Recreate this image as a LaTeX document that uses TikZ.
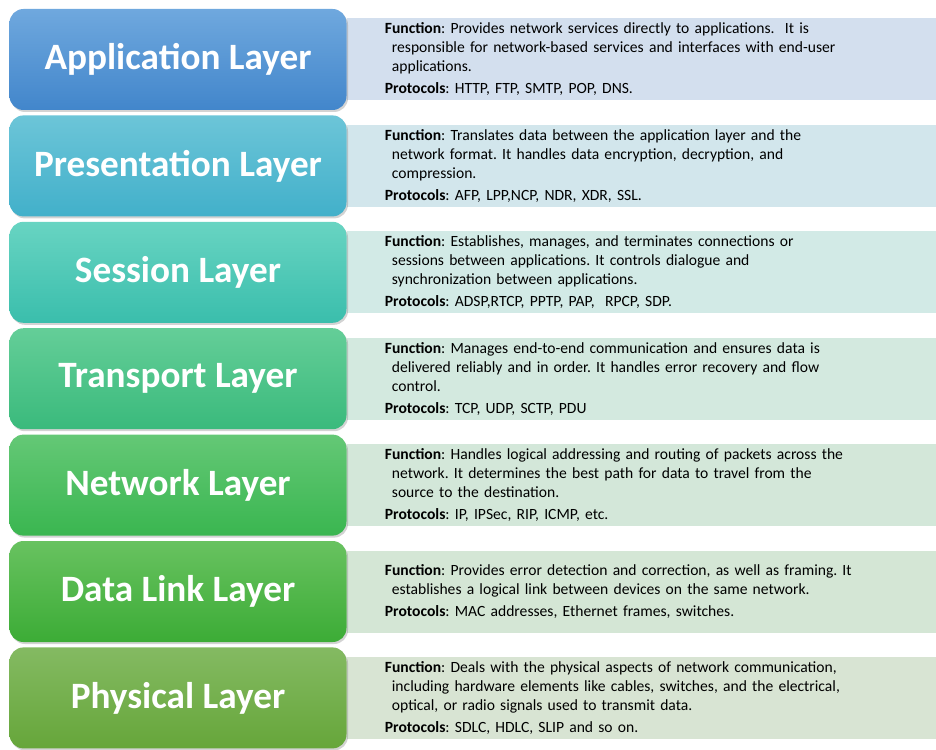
\documentclass[tikz,border=0pt]{standalone}
\usepackage{fontspec}
\setmainfont{Carlito}
\usetikzlibrary{positioning}
\usetikzlibrary{shadows}
\usetikzlibrary{backgrounds}

% layer colours (top, bottom, panel)
\definecolor{apptop}{RGB}{111,168,222}
\definecolor{appbot}{RGB}{66,134,203}
\definecolor{appbg}{RGB}{211,223,238}
\definecolor{prestop}{RGB}{108,197,216}
\definecolor{presbot}{RGB}{66,176,202}
\definecolor{presbg}{RGB}{210,230,236}
\definecolor{sesstop}{RGB}{104,212,194}
\definecolor{sessbot}{RGB}{58,190,172}
\definecolor{sessbg}{RGB}{210,234,230}
\definecolor{transtop}{RGB}{100,206,152}
\definecolor{transbot}{RGB}{58,186,124}
\definecolor{transbg}{RGB}{211,233,223}
\definecolor{nettop}{RGB}{100,200,118}
\definecolor{netbot}{RGB}{58,182,80}
\definecolor{netbg}{RGB}{211,231,217}
\definecolor{linktop}{RGB}{104,194,96}
\definecolor{linkbot}{RGB}{60,172,54}
\definecolor{linkbg}{RGB}{212,230,213}
\definecolor{phystop}{RGB}{132,186,98}
\definecolor{physbot}{RGB}{102,166,58}
\definecolor{physbg}{RGB}{216,228,211}

\newcommand{\nxt}{\\\hspace*{7pt}}
\newcommand{\proto}{\\[3pt]\textbf{Protocols}: }

\begin{document}
\frenchspacing
\begin{tikzpicture}[x=1pt,y=1pt,
	layer/.style={rectangle, rounded corners=14pt, minimum width=337pt, minimum height=101pt, text=white, font=\fontsize{37.2}{42}\selectfont\bfseries, drop shadow={shadow xshift=1.5pt, shadow yshift=-2pt, opacity=.35}},
	info/.style={rectangle, minimum width=589pt, minimum height=82pt, inner xsep=38pt, inner ysep=0pt, text width=513pt, align=left, font=\fontsize{15.6}{19}\selectfont}]
	\useasboundingbox (0,0) rectangle (936,-749);

	% nodes
	\node[layer, top color=apptop, bottom color=appbot] (app) at (178,-59.5) {Application Layer};%
	\node[layer, top color=prestop, bottom color=presbot, below=5pt of app] (pres) {Presentation Layer};%
	\node[layer, top color=sesstop, bottom color=sessbot, below=5pt of pres] (sess) {Session Layer};%
	\node[layer, top color=transtop, bottom color=transbot, below=5pt of sess] (trans) {Transport Layer};%
	\node[layer, top color=nettop, bottom color=netbot, below=5pt of trans] (net) {Network Layer};%
	\node[layer, top color=linktop, bottom color=linkbot, below=5pt of net] (link) {Data Link Layer};%
	\node[layer, top color=phystop, bottom color=physbot, below=5pt of link] (phys) {Physical Layer};%

	% panels
	\begin{scope}[on background layer]
	\node[info, fill=appbg, right=0pt of app] (appinfo) {\textbf{Function}: Provides network services directly to applications.\ \ It is\nxt responsible for network-based services and interfaces with end-user\nxt applications.\proto HTTP, FTP, SMTP, POP, DNS.};%
	\node[info, fill=presbg, right=0pt of pres] (presinfo) {\textbf{Function}: Translates data between the application layer and the\nxt network format. It handles data encryption, decryption, and\nxt compression.\proto AFP, LPP,NCP, NDR, XDR, SSL.};%
	\node[info, fill=sessbg, right=0pt of sess] (sessinfo) {\textbf{Function}: Establishes, manages, and terminates connections or\nxt sessions between applications. It controls dialogue and\nxt synchronization between applications.\proto ADSP,RTCP, PPTP, PAP,\ \ RPCP, SDP.};%
	\node[info, fill=transbg, right=0pt of trans] (transinfo) {\textbf{Function}: Manages end-to-end communication and ensures data is\nxt delivered reliably and in order. It handles error recovery and flow\nxt control.\proto TCP, UDP, SCTP, PDU};%
	\node[info, fill=netbg, right=0pt of net] (netinfo) {\textbf{Function}: Handles logical addressing and routing of packets across the\nxt network. It determines the best path for data to travel from the\nxt source to the destination.\proto IP, IPSec, RIP, ICMP, etc.};%
	\node[info, fill=linkbg, right=0pt of link] (linkinfo) {\textbf{Function}: Provides error detection and correction, as well as framing. It\nxt establishes a logical link between devices on the same network.\proto MAC addresses, Ethernet frames, switches.};%
	\node[info, fill=physbg, right=0pt of phys] (physinfo) {\textbf{Function}: Deals with the physical aspects of network communication,\nxt including hardware elements like cables, switches, and the electrical,\nxt optical, or radio signals used to transmit data.\proto SDLC, HDLC, SLIP and so on.};%
	\end{scope}
\end{tikzpicture}
\end{document}
